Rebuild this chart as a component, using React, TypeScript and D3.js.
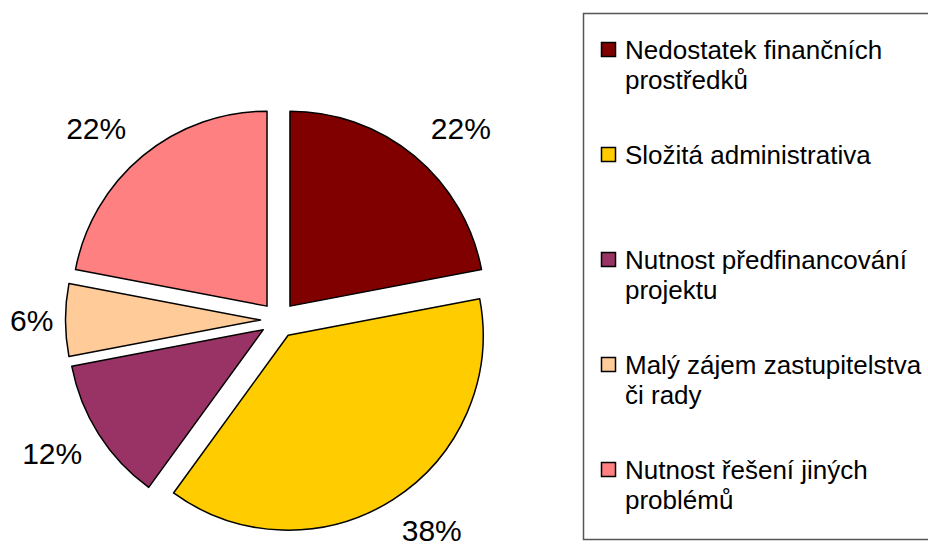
import React, { useEffect, useRef } from "react";
import * as d3 from "d3";

const categories = [
  ["Nedostatek finančních", "prostředků"],
  ["Složitá administrativa"],
  ["Nutnost předfinancování", "projektu"],
  ["Malý zájem zastupitelstva", "či rady"],
  ["Nutnost řešení jiných", "problémů"],
];
const values = [22, 38, 12, 6, 22];
const labels = ["22%", "38%", "12%", "6%", "22%"];
const colors = ["#800000", "#FFCC00", "#993366", "#FFCC99", "#FF8080"];

const App = () => {
  const d3Container = useRef(null);

  useEffect(() => {
    if (d3Container.current) {
      createPieChart(d3Container.current);
    }
  }, []);

  return (
    <div
      ref={d3Container}
      style={{ position: "absolute", left: 0, top: 0, width: 928, height: 546 }}
    />
  );
};

function createPieChart(container) {
  d3.select(container).selectAll("*").remove();

  const width = 928;
  const height = 546;
  const cx = 278.5;
  const cy = 320;
  const radius = 195;
  const explode = 18;
  const labelFont = 30;
  const legendFont = 26;

  const svg = d3
    .select(container)
    .append("svg")
    .attr("width", width)
    .attr("height", height)
    .style("display", "block")
    .style("background-color", "#fff")
    .style("font-family", "'Liberation Sans', Arial, sans-serif");

  const pie = d3
    .pie()
    .value((d) => d)
    .sort(null);
  const arcs = pie(values);

  const arc = d3.arc().innerRadius(0).outerRadius(radius);

  const g = svg.append("g").attr("transform", `translate(${cx},${cy})`);

  // exploded slices
  g.selectAll("path")
    .data(arcs)
    .enter()
    .append("path")
    .attr("transform", (d) => {
      const a = (d.startAngle + d.endAngle) / 2;
      return `translate(${explode * Math.sin(a)},${-explode * Math.cos(a)})`;
    })
    .attr("d", arc)
    .attr("fill", (d, i) => colors[i])
    .attr("stroke", "#000")
    .attr("stroke-width", 1.5)
    .attr("stroke-linejoin", "round");

  // percentage labels outside the slices
  const labelR = 232;
  g.selectAll("text.pct")
    .data(arcs)
    .enter()
    .append("text")
    .attr("class", "pct")
    .attr("text-anchor", "middle")
    .style("font-size", labelFont + "px")
    .attr("fill", "#000")
    .each(function (d, i) {
      const a = (d.startAngle + d.endAngle) / 2;
      const w = labelFont * (0.556 * (labels[i].length - 1) + 0.889);
      const h = labelFont * 0.72;
      // left-side labels sit a little closer to the pie
      const k = Math.sin(a) < 0 && Math.cos(a) < 0.5 ? 0.6 : 0.9;
      let x = Math.sin(a) * (labelR + k * w);
      const y = -Math.cos(a) * (labelR + 0.8 * h);
      // keep inside the chart area
      const minX = 10 - cx + w / 2;
      if (x < minX) x = minX;
      d3.select(this)
        .attr("x", x)
        .attr("y", y + labelFont * 0.36)
        .text(labels[i]);
    });

  // legend
  const legend = svg.append("g");
  legend
    .append("rect")
    .attr("x", 583.5)
    .attr("y", 13.5)
    .attr("width", 380)
    .attr("height", 526)
    .attr("fill", "none")
    .attr("stroke", "#555")
    .attr("stroke-width", 1.5);

  const item = legend
    .selectAll("g.item")
    .data(categories)
    .enter()
    .append("g")
    .attr("class", "item")
    .attr("transform", (d, i) => `translate(0,${49.5 + i * 105})`);

  item
    .append("rect")
    .attr("x", 601.5)
    .attr("y", -7)
    .attr("width", 14)
    .attr("height", 14)
    .attr("fill", (d, i) => colors[i])
    .attr("stroke", "#000")
    .attr("stroke-width", 1.5);

  item
    .selectAll("text")
    .data((d) => d)
    .enter()
    .append("text")
    .attr("x", 625)
    .attr("y", (d, j) => legendFont * 0.36 + j * 30)
    .style("font-size", legendFont + "px")
    .attr("fill", "#000")
    .text((d) => d);
}

export default App;
